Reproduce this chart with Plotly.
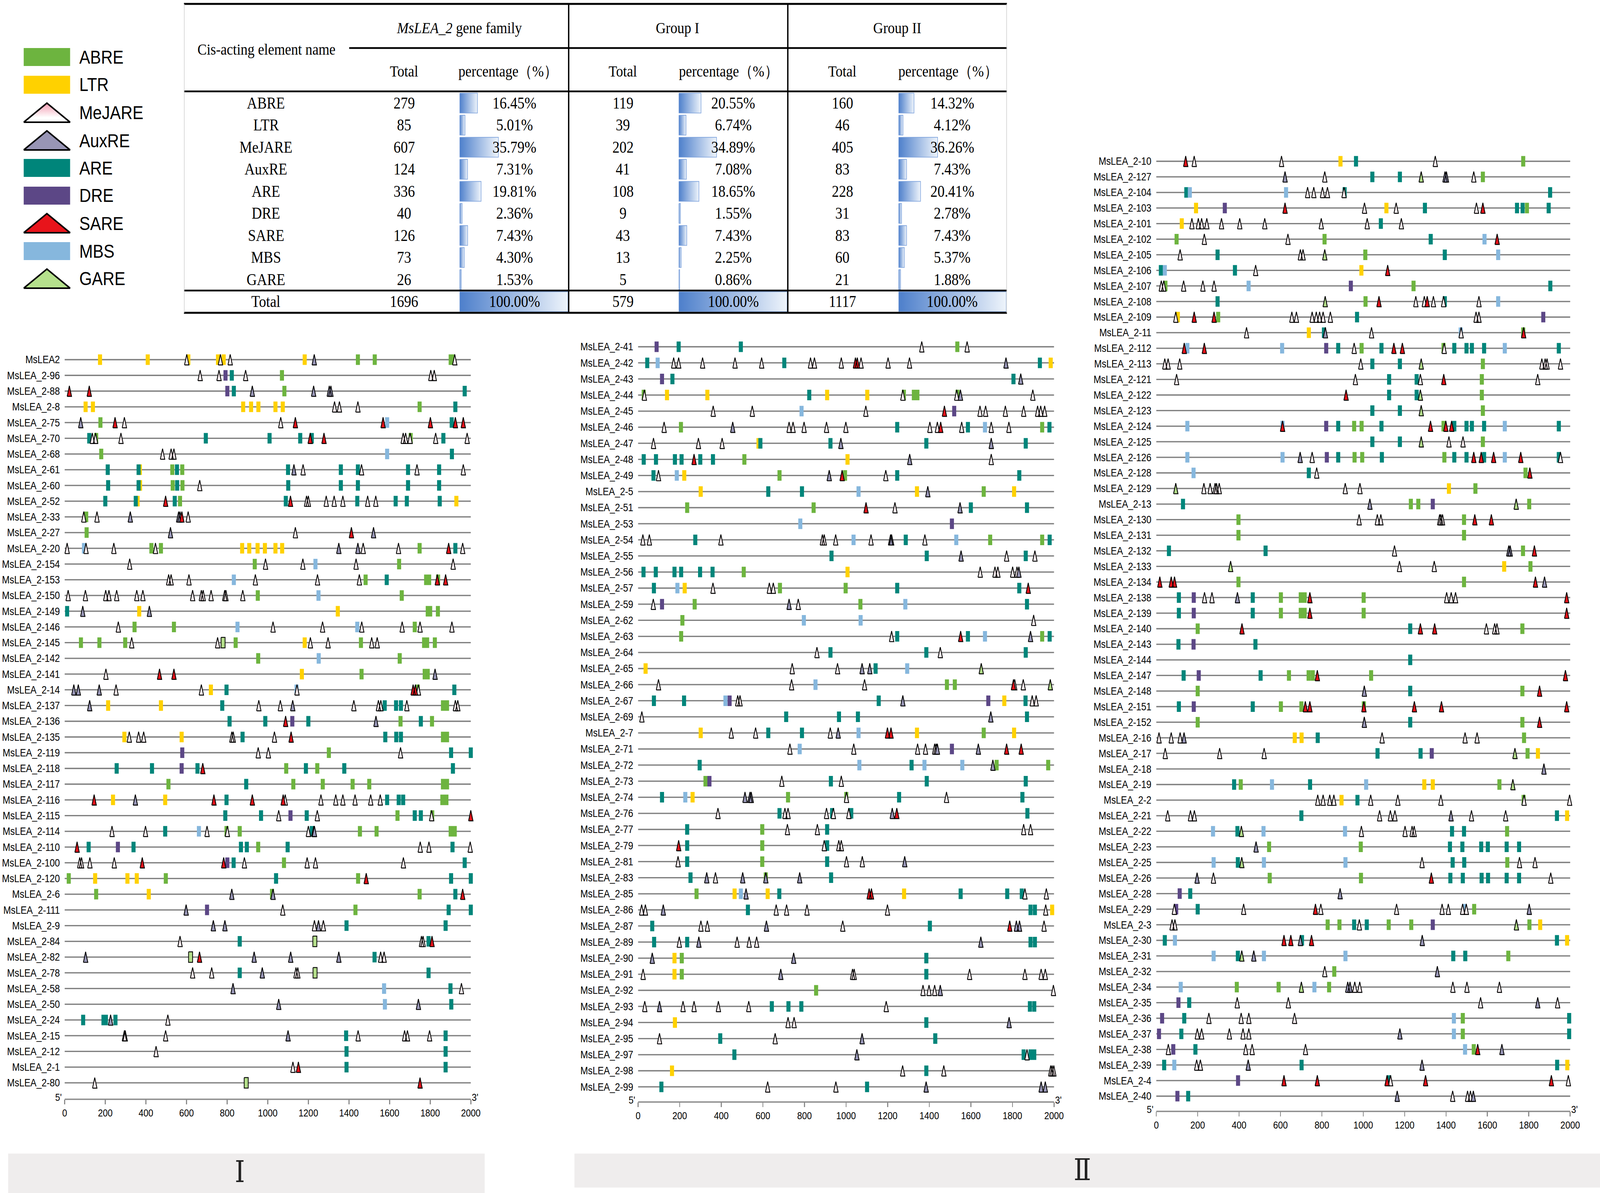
import plotly.graph_objects as go

W, H = 4724, 3055

# ---------------- table values ----------------
ELEMENTS = ["ABRE", "LTR", "MeJARE", "AuxRE", "ARE", "DRE", "SARE", "MBS", "GARE"]
FAMILY_TOTAL = [279, 85, 607, 124, 336, 40, 126, 73, 26]
FAMILY_PCT = [16.45, 5.01, 35.79, 7.31, 19.81, 2.36, 7.43, 4.30, 1.53]
GROUP1_TOTAL = [119, 39, 202, 41, 108, 9, 43, 13, 5]
GROUP1_PCT = [20.55, 6.74, 34.89, 7.08, 18.65, 1.55, 7.43, 2.25, 0.86]
GROUP2_TOTAL = [160, 46, 405, 83, 228, 31, 83, 60, 21]
GROUP2_PCT = [14.32, 4.12, 36.26, 7.43, 20.41, 2.78, 7.43, 5.37, 1.88]

# ---------------- promoter sites (code + position from 5') ----------------
# A=ABRE L=LTR M=MeJARE X=AuxRE R=ARE D=DRE S=SARE B=MBS G=GARE
GENES_I = ["MsLEA2", "MsLEA_2-96", "MsLEA_2-88", "MsLEA_2-8", "MsLEA_2-75", "MsLEA_2-70",
           "MsLEA_2-68", "MsLEA_2-61", "MsLEA_2-60", "MsLEA_2-52", "MsLEA_2-33", "MsLEA_2-27",
           "MsLEA_2-20", "MsLEA_2-154", "MsLEA_2-153", "MsLEA_2-150", "MsLEA_2-149", "MsLEA_2-146",
           "MsLEA_2-145", "MsLEA_2-142", "MsLEA_2-141", "MsLEA_2-14", "MsLEA_2-137", "MsLEA_2-136",
           "MsLEA_2-135", "MsLEA_2-119", "MsLEA_2-118", "MsLEA_2-117", "MsLEA_2-116", "MsLEA_2-115",
           "MsLEA_2-114", "MsLEA_2-110", "MsLEA_2-100", "MsLEA_2-120", "MsLEA_2-6", "MsLEA_2-111",
           "MsLEA_2-9", "MsLEA_2-84", "MsLEA_2-82", "MsLEA_2-78", "MsLEA_2-58", "MsLEA_2-50",
           "MsLEA_2-24", "MsLEA_2-15", "MsLEA_2-12", "MsLEA_2-1", "MsLEA_2-80"]
SITES_I = [
    "L174 L409 M601 L609 L755 M767 L783 M815 L1182 X1229 A1444 A1527 A1901 A1912 M1921",
    "M667 M760 D792 R823 M891 A1070 M1803 M1820",
    "S23 S121 D801 R833 X924 A1082 X1226 X1303 X1311 R1970",
    "L103 L139 L879 L918 L954 L1038 L1074 M1329 M1353 M1444 A1748 R1924",
    "X79 A176 S248 M294 M1064 S1136 S1568 B1588 S1801 R1906 S1924 S1963",
    "R121 M136 A155 M152 M277 R695 R1009 R1160 S1209 R1217 S1277 M1667 M1679 A1704 M1701 M1827 R1865 M1982",
    "A180 M482 M524 M538 B1588 R1907",
    "R212 R364 L370 A530 R553 A579 R1100 X1129 M1174 R1360 R1444 M1462 R1691 M1735 R1844 M1963",
    "R214 R364 L371 A532 R554 A580 M665 R1101 R1360 R1444 R1691 R1844",
    "R200 R350 L359 S497 R542 A568 R1089 S1112 M1191 M1200 M1288 M1327 M1370 R1441 M1492 M1532 R1630 R1685 R1847 L1929",
    "M94 A106 M159 X323 X561 X568 S577 M608",
    "A108 X521 M1136 S1412 X1521",
    "M12 B95 M105 M242 A427 M447 A474 L874 L909 L950 L986 L1038 L1071 X1350 X1444 M1470 M1644 A1748 S1891 R1924 M1960",
    "M320 A936 M989 M1173 B1235 M1435 A1647 M1913",
    "M512 M524 M612 B833 M939 M1245 M1451 A1482 R1586 A1780 A1795 A1839 S1835 S1876",
    "M17 M102 M202 M218 M256 M355 M385 M630 M673 M682 M721 M788 M794 M877 A951 B1250 A1660",
    "R12 X89 L367 X417 L1345 A1788 A1800 A1838",
    "M264 A344 A538 B851 M1026 M1270 B1441 M1463 M1662 A1724 M1750 M1907",
    "A80 A171 A298 M330 M753 G780 A842 L1182 M1210 M1297 A1459 M1512 M1539 A1770 A1785 A1823",
    "A953 B1251 A1650",
    "M203 S467 S538 L1168 A1462 A1773 A1788 X1824",
    "X45 X67 X170 M253 M673 L720 R797 B1142 M1144 S1716 S1727 A1739 M1742 R1919",
    "X123 L214 L474 R776 M956 M1062 X1123 M1424 M1545 M1557 R1576 R1632 R1656 M1685 A1863 A1883 M1924 M1936",
    "R812 R988 S1088 D1121 R1200 X1533 A1654 R1754 A1809",
    "L294 M318 M364 M389 L576 M823 M830 R876 M1033 S1115 R1579 R1633 R1656 A1863 A1883",
    "D579 M953 M1003 A1301 M1654 R1903 R2000",
    "R256 R430 D576 R654 S680 A1091 R1188 A1244 R1377 R1912",
    "A511 R894 A1126 A1271 A1418 A1500 A1863 A1883",
    "S145 L238 X348 L495 S735 R797 S924 S1076 M1086 M1262 M1335 M1370 M1430 M1507 M1554 R1588 R1645 R1667 A1860 A1880",
    "R791 R967 M1054 D1112 R1192 M1244 A1639 R1724 R1754 A1810 M1807 S2000",
    "M233 M398 R495 B661 M701 A797 M801 A862 M1200 R1217 M1227 X1230 A1454 A1536 A1901 A1921",
    "S61 R118 D262 R339 R868 R897 A953 R1098 M1751 M1794 R1910 M1997",
    "M74 M83 M124 M244 S382 S783 D801 R832 M885 A1080 M1194 M1235 M1668 R1970",
    "A20 L150 L309 L355 A498 R1041 A1445 S1485 R1903 R2000",
    "A155 L414 X823 A1021 X1026 A1748 R1924 S1960",
    "X598 D701 M1074 A1432 R1891 R2000",
    "X732 X789 M1230 X1250 M1274 R1388 R1876",
    "M568 R862 G1232 M1757 M1765 R1792 S1809",
    "X103 G620 S664 X933 X1113 X1350 R1526 M1556 M1573",
    "M630 M724 R862 X973 M1139 M1148 G1233 R1792",
    "X829 B1573 R1900 M1954",
    "X1054 B1577 X1742 R1904",
    "R91 R191 R203 X226 R250 M508",
    "M294 M298 M497 X1100 R1386 M1445 M1674 M1688 M1797 R1876",
    "M450 R1388 R1876",
    "M1124 S1151 R1388 R1876",
    "M148 G894 S1750",
]

GENES_II = ["MsLEA_2-41", "MsLEA_2-42", "MsLEA_2-43", "MsLEA_2-44", "MsLEA_2-45", "MsLEA_2-46",
            "MsLEA_2-47", "MsLEA_2-48", "MsLEA_2-49", "MsLEA_2-5", "MsLEA_2-51", "MsLEA_2-53",
            "MsLEA_2-54", "MsLEA_2-55", "MsLEA_2-56", "MsLEA_2-57", "MsLEA_2-59", "MsLEA_2-62",
            "MsLEA_2-63", "MsLEA_2-64", "MsLEA_2-65", "MsLEA_2-66", "MsLEA_2-67", "MsLEA_2-69",
            "MsLEA_2-7", "MsLEA_2-71", "MsLEA_2-72", "MsLEA_2-73", "MsLEA_2-74", "MsLEA_2-76",
            "MsLEA_2-77", "MsLEA_2-79", "MsLEA_2-81", "MsLEA_2-83", "MsLEA_2-85", "MsLEA_2-86",
            "MsLEA_2-87", "MsLEA_2-89", "MsLEA_2-90", "MsLEA_2-91", "MsLEA_2-92", "MsLEA_2-93",
            "MsLEA_2-94", "MsLEA_2-95", "MsLEA_2-97", "MsLEA_2-98", "MsLEA_2-99"]
SITES_II = [
    "D89 R195 R494 M1364 A1535 M1582",
    "R44 B94 M171 M195 M310 M466 M594 R703 M829 M848 M977 S1045 S1054 M1072 M1202 M1305 X1769 R1932 L1984",
    "D115 R165 R1805 X1840",
    "A27 M30 L139 L333 R823 L909 L1102 A1278 M1273 A1326 A1343 A1536 M1532 X1550 M1898",
    "M361 M549 B786 M1095 S1473 D1520 M1644 M1671 M1766 M1854 M1921 M1936 M1955",
    "M125 A206 X455 M726 M745 M798 M906 M999 R1246 M1403 M1439 S1455 M1556 R1586 B1668 M1698 M1783 A1943 R1978",
    "M74 M290 M404 L579 R588 R925 X975 R1386 X1698 R1864",
    "R27 R86 R177 R209 S269 R299 R360 A511 L1007 X1306 M1698",
    "R74 M98 B186 L222 A680 X919 S981 A995 M1191 R1246 R1833",
    "L301 R626 R788 B1060 L1341 X1393 A1662 L1808",
    "A236 A844 S1096 M1235 X1548 R1600 R1870",
    "B780 D1509",
    "M23 M54 R275 M398 M886 M895 M950 B1036 M1120 X1214 X1219 R1287 M1379 B1530 A1693 A1943 R1979",
    "R930 R1388 X1553 M1772 R1864 M1908",
    "R26 R85 R175 R207 R298 R358 A508 L1007 M1645 M1716 M1730 M1801 M1822 X1831",
    "R76 B189 L224 M360 M631 M650 A682 A998 R1246 R1833 S1876",
    "M73 D115 A272 X726 M770 A1069 B1285 R1870",
    "A213 B797 B1070 M1902",
    "A207 M1219 R1246 S1551 R1586 B1668 X1887 A1943 R1979",
    "M860 R925 R1386 M1453 R1864",
    "L36 M741 M959 X1077 X1114 R1142 B1294 G1650",
    "M98 M738 B853 M1089 A1485 A1523 S1805 M1811 M1852 G1982",
    "R76 R221 B420 D440 M479 M490 R1157 X1273 D1684 L1761 R1863 M1895 M1914",
    "M18 R712 R966 R1057 X1696 R1870",
    "L301 M448 M565 R626 R788 M924 X962 B1060 S1199 S1216 L1341 A1662 L1808",
    "M730 B777 M1037 M1344 M1382 M1426 M1433 X1439 D1509 X1636 S1772 S1842",
    "R296 B1064 R1315 B1377 B1559 X1706 A1724 A1972",
    "A324 D343 M691 R927 M977 R1388 R1864",
    "R115 B227 L262 X514 X538 X544 A721 A1001 M1002 R1255 M1483 R1848",
    "M384 R680 M706 M721 M906 R933 M939 M1013 R1025 X1222 S1244 R1872",
    "R236 A597 M718 M862 R909 M1854 M1887",
    "S195 R236 A597 M895 R909 M965 M977",
    "M192 R236 A597 R909 M1002 M1078 X1282",
    "R252 X330 M372 X503 A614 X614 X777 R928",
    "A281 L464 B494 X519 L623 R679 S1111 S1122 L1279 R1551 R1775 R1845 M1860 M1963",
    "M17 M35 X121 R528 M664 M714 M812 M1199 R1887 R1908 M1960 L1991",
    "R68 M302 M333 X617 M984 R1403 S1787 X1819 X1834 M1952",
    "R77 M198 R236 X292 M476 M534 M570 X1648 R1887 R1908",
    "X68 L175 A210 X748 R1386",
    "M24 L175 A210 X686 M1031 M1039 R1386 M1594 M1860 M1938 M1958",
    "A856 M1370 M1399 M1426 X1453 M1997",
    "M32 X103 M216 M269 M386 M532 R643 R723 R785 M1193 R1884 R1905",
    "L177 M721 M750 R1386 X1784",
    "M103 R395 M659 X1077 R1429",
    "R463 X1052 R1854 M1870 R1887 R1905",
    "L163 M1272 R1386 M1470 M1984 M1991 M1999",
    "R112 M623 M951 R1101 X1385 X1938 X1958",
]

GENES_III = ["MsLEA_2-10", "MsLEA_2-127", "MsLEA_2-104", "MsLEA_2-103", "MsLEA_2-101", "MsLEA_2-102",
             "MsLEA_2-105", "MsLEA_2-106", "MsLEA_2-107", "MsLEA_2-108", "MsLEA_2-109", "MsLEA_2-11",
             "MsLEA_2-112", "MsLEA_2-113", "MsLEA_2-121", "MsLEA_2-122", "MsLEA_2-123", "MsLEA_2-124",
             "MsLEA_2-125", "MsLEA_2-126", "MsLEA_2-128", "MsLEA_2-129", "MsLEA_2-13", "MsLEA_2-130",
             "MsLEA_2-131", "MsLEA_2-132", "MsLEA_2-133", "MsLEA_2-134", "MsLEA_2-138", "MsLEA_2-139",
             "MsLEA_2-140", "MsLEA_2-143", "MsLEA_2-144", "MsLEA_2-147", "MsLEA_2-148", "MsLEA_2-151",
             "MsLEA_2-152", "MsLEA_2-16", "MsLEA_2-17", "MsLEA_2-18", "MsLEA_2-19", "MsLEA_2-2",
             "MsLEA_2-21", "MsLEA_2-22", "MsLEA_2-23", "MsLEA_2-25", "MsLEA_2-26", "MsLEA_2-28",
             "MsLEA_2-29", "MsLEA_2-3", "MsLEA_2-30", "MsLEA_2-31", "MsLEA_2-32", "MsLEA_2-34",
             "MsLEA_2-35", "MsLEA_2-36", "MsLEA_2-37", "MsLEA_2-38", "MsLEA_2-39", "MsLEA_2-4",
             "MsLEA_2-40"]
SITES_III = [
    "S142 M183 M605 L890 R965 M1348 A1773",
    "X622 M814 R1044 R1177 G1280 X1395 X1402 M1534 A1578",
    "R145 B162 B627 M731 M761 M803 M827 R910 M907 R1903",
    "L192 D331 S622 M1006 L1112 M1159 R1298 M1547 S1578 R1743 R1770 A1791 R1896",
    "L123 M172 M203 M219 M244 M315 M403 M524 M797 M1019 R1085 M1184",
    "A98 M232 M636 A813 R1326 B1586 S1647",
    "M115 R296 M696 M709 G814 A1010 R1394 B1652",
    "R22 B41 R380 M480 L991 S1118",
    "M24 M36 A44 M132 M225 M279 B446 D940 A1243 R1904",
    "R296 G816 A1011 S1076 M1254 M1295 S1309 M1339 R1394 M1388 M1559 B1652",
    "M94 L104 S183 S279 A299 M655 M677 M753 M773 M789 M806 M841 R970 M1545 M1559 D1870",
    "M436 L737 R810 X817 M1040 B1471 M1473 A1773 S1775",
    "B150 S135 S232 B608 D821 R879 M956 A992 R1088 S1148 S1189 A1388 M1391 R1440 R1499 R1525 R1584 B1684 R1945",
    "M41 M57 M113 M988 R1044 R1177 G1280 A1578 M1863 M1879 M1888 M1953",
    "M98 M962 R1125 R1258 M1276 S1389 A1573 M1843",
    "S917 R1125 R1258 G1276 A1573",
    "R1044 R1177 G1280 A1578",
    "B150 B610 S610 D821 R879 A956 A992 R1088 S1325 A1388 S1399 S1427 R1440 R1499 R1525 R1584 B1684 R1945",
    "R1044 R1177 G1280 M1414 M1482 A1578",
    "B150 B610 X695 M753 D824 R879 A958 A995 R1090 A1392 R1440 R1499 S1534 S1570 R1584 S1630 B1684 S1761 R1945 M1953",
    "B180 R737 M775 A1784 S1805",
    "G94 M230 M260 M284 M291 M304 M913 M984 L1414 A1542",
    "R129 X1032 A1230 A1266 D1336 G1739 A1802",
    "A397 M980 M1068 M1085 M1369 M1375 M1383 A1487 S1539 S1619",
    "A397 A1487",
    "R61 R528 M1151 X1703 X1710 A1772 S1827",
    "G359 M1175 M1343 L1681 A1808",
    "S17 S72 S88 A397 A1487 S1832 X1876",
    "R109 D181 M233 M269 X392 R466 A602 A698 A717 S742 A1002 M1403 M1425 M1446 S1983",
    "R109 D181 R466 A602 A698 A717 S742 A1002 S1983",
    "A200 S414 R1227 S1276 S1345 M1595 M1635 M1646 A1769",
    "R107 D180 R479",
    "R1227",
    "R132 D205 R504 A641 A736 A756 S778 A1038 S1977",
    "A200 X1005 R1227 A1769 S1852",
    "R109 D181 R466 A602 A701 S720 S742 A1003 S1003 S1247 S1378 S1983",
    "A200 X1005 R1227 A1769 S1852",
    "M13 M72 M115 X134 L669 L702 R780 M1091 M1492 M1550 A1777",
    "M43 M306 M521 R1069 R1277 D1331 G1733 A1794 L1844",
    "X1873",
    "R376 A408 B559 R743 B1014 L1295 L1336 A1658 G1723",
    "M780 M806 M838 M858 L895 R972 M1036 M1167 M1375 A1775 M1777 M1997",
    "M55 M165 M184 R701 M1079 M1131 M1153 X1424 M1523 M1688 R1936 L1985",
    "B274 R392 G411 B518 B912 M991 M1202 M1236 M1246 R1429 R1487 A1695",
    "X482 A545 A988 R1419 R1479 R1570 R1602 R1693 R1753",
    "B277 R394 G413 B520 B914 M1284 R1432 R1488 A1696 M1755 M1830",
    "X197 M276 A548 A989 S1329 R1421 R1481 R1572 R1603 R1693 R1753 M1906",
    "D113 R164 X888",
    "M87 D96 R200 M422 S769 M795 M1161 M1381 M1411 M1480 B1490 M1498 A1536 X1802",
    "M76 M90 A828 A885 R956 M981 R1017 A1123 A1232 D1336 G1740 A1803 L1855",
    "R41 B90 S617 S650 R704 X696 S750 X1285 R1936 L1985",
    "B277 R394 G413 X471 B520 B914 R1435 R1493 A1701",
    "M814 A860 X1358",
    "B118 A389 A591 G701 B764 A835 X925 X936 M959 M983 M1433 M1501 M1658",
    "D107 R159 M391 M638 M1567 X1843 M1939",
    "D28 R135 M254 M410 M447 M668 B1438 A1481 R1995",
    "D13 R121 M198 M219 M353 M419 M447 X1177 B1438 A1481 R1995",
    "M58 D82 R189 M432 M463 M721 B1492 A1534 S1553 X1670",
    "R38 B87 M195 M213 X444 R702 X1284 R1937 L1986",
    "D395 S617 S778 S1115 R1125 M1132 S1301 S1909 M1991",
    "D102 R154 X1164 M1432 M1504 M1518 X1532",
]

CODES = {"A": "ABRE", "L": "LTR", "M": "MeJARE", "X": "AuxRE", "R": "ARE",
         "D": "DRE", "S": "SARE", "B": "MBS", "G": "GARE"}
COLORS = {"ABRE": "#6db43f", "LTR": "#ffd100", "MeJARE": "#fdf0f3", "AuxRE": "#9a98b8",
          "ARE": "#00857a", "DRE": "#5c4786", "SARE": "#e5131b", "MBS": "#86b7dd",
          "GARE": "#b3dd8a"}
BOX_TYPES = ["ABRE", "LTR", "ARE", "DRE", "MBS"]
TRI_TYPES = ["MeJARE", "AuxRE", "SARE"]

SANS = "Liberation Sans, Arial, sans-serif"
SERIF = "Liberation Serif, Times New Roman, serif"


def parse(s):
    return [(CODES[t[0]], float(t[1:])) for t in s.split()]


def px_x(x):
    return x / W


def px_y(y):
    return 1 - y / H


fig = go.Figure()
layout = dict(width=W, height=H, margin=dict(l=0, r=0, t=0, b=0),
              paper_bgcolor="white", plot_bgcolor="rgba(0,0,0,0)", showlegend=False)
shapes = []
annotations = []


def note(x, y, text, size, family=SERIF, xref="paper", yref="paper", xanchor="center",
         yanchor="middle", color="black"):
    annotations.append(dict(xref=xref, yref=yref, x=x, y=y, text=text, showarrow=False,
                            xanchor=xanchor, yanchor=yanchor,
                            font=dict(family=family, size=size, color=color)))


# panel geometry (pixels of the 4724x3055 page)
PANELS = [
    dict(genes=GENES_I, sites=SITES_I, x0=191, x1=1390, row0=921, step=40.26, axis=2815, gare_box=True),
    dict(genes=GENES_II, sites=SITES_II, x0=1884, x1=3112, row0=888, step=41.2, axis=2822, gare_box=False),
    dict(genes=GENES_III, sites=SITES_III, x0=3414, x1=4636, row0=413, step=39.9, axis=2846, gare_box=False),
]

for k, p in enumerate(PANELS, start=1):
    sfx = "" if k == 1 else str(k)
    xa, ya = "x" + sfx, "y" + sfx
    ppu = (p["x1"] - p["x0"]) / 2000
    pad = 22
    n = len(p["genes"])
    step = p["step"]
    top = p["row0"] - 0.9 * step
    layout["xaxis" + sfx] = dict(
        domain=[px_x(p["x0"] - pad * ppu), px_x(p["x1"] + pad * ppu)],
        range=[-pad, 2000 + pad], anchor=ya, showgrid=False, zeroline=False, showline=False,
        tickvals=list(range(0, 2001, 200)), ticks="outside", ticklen=12, tickwidth=2.5,
        tickcolor="#8c8c8c", tickfont=dict(family=SANS, size=26, color="black"),
        automargin=False, fixedrange=True)
    layout["yaxis" + sfx] = dict(
        domain=[px_y(p["axis"]), px_y(top)],
        range=[(p["axis"] - p["row0"]) / step, -0.9], anchor=xa,
        showgrid=False, zeroline=False, showline=False, ticks="",
        tickvals=list(range(n)), ticktext=p["genes"],
        tickfont=dict(family=SANS, size=27, color="black"),
        automargin=False, fixedrange=True)

    # gene lines
    lx, ly = [], []
    for i in range(n):
        lx += [0, 2000, None]
        ly += [i, i, None]
    fig.add_trace(go.Scatter(x=lx, y=ly, xaxis=xa, yaxis=ya, mode="lines",
                             line=dict(color="#7f7f7f", width=3.3), hoverinfo="skip"))

    # axis baseline + 5'/3'
    shapes.append(dict(type="line", xref="paper", yref="paper",
                       x0=px_x(p["x0"]), x1=px_x(p["x1"]),
                       y0=px_y(p["axis"]), y1=px_y(p["axis"]),
                       line=dict(color="#8c8c8c", width=3.3)))
    note(px_x(p["x0"] - 7), px_y(p["axis"] - 5), "5'", 26, family=SANS, xanchor="right")
    note(px_x(p["x1"] + 1), px_y(p["axis"] - 5), "3'", 26, family=SANS, xanchor="left")

    rows = [parse(s) for s in p["sites"]]
    bw, bh = 6 / ppu, 13.5 / step
    tw, th = 6.5 / ppu, 13.5 / step

    def boxes(name):
        xs, ys = [], []
        for i, row in enumerate(rows):
            for t, pos in row:
                if t == name:
                    xs += [pos - bw, pos + bw, pos + bw, pos - bw, pos - bw, None]
                    ys += [i - bh, i - bh, i + bh, i + bh, i - bh, None]
        return xs, ys

    def triangles(name):
        xs, ys = [], []
        for i, row in enumerate(rows):
            for t, pos in row:
                if t == name:
                    xs += [pos - tw, pos, pos + tw, pos - tw, None]
                    ys += [i + th, i - th, i + th, i + th, None]
        return xs, ys

    for name in BOX_TYPES:
        xs, ys = boxes(name)
        if xs:
            fig.add_trace(go.Scatter(x=xs, y=ys, xaxis=xa, yaxis=ya, mode="lines", fill="toself",
                                     fillcolor=COLORS[name], line=dict(width=0, color=COLORS[name]),
                                     hoverinfo="skip"))
    if p["gare_box"]:
        xs, ys = boxes("GARE")
        if xs:
            fig.add_trace(go.Scatter(x=xs, y=ys, xaxis=xa, yaxis=ya, mode="lines", fill="toself",
                                     fillcolor=COLORS["GARE"], line=dict(width=2.2, color="black"),
                                     hoverinfo="skip"))
    tri_list = TRI_TYPES + ([] if p["gare_box"] else ["GARE"])
    for name in tri_list:
        xs, ys = triangles(name)
        if xs:
            fig.add_trace(go.Scatter(x=xs, y=ys, xaxis=xa, yaxis=ya, mode="lines", fill="toself",
                                     fillcolor=COLORS[name], line=dict(width=2.4, color="black"),
                                     hoverinfo="skip"))

# ---------------- overlay axis in page pixels (legend) ----------------
layout["xaxis4"] = dict(domain=[0, 1], range=[0, W], anchor="y4", visible=False, fixedrange=True)
layout["yaxis4"] = dict(domain=[0, 1], range=[H, 0], anchor="x4", visible=False, fixedrange=True)

LEG_Y = [146, 217, 289, 360, 430, 501, 572, 643, 714]
for name, cy in zip(ELEMENTS, LEG_Y):
    if name in BOX_TYPES:
        shapes.append(dict(type="rect", xref="paper", yref="paper",
                           x0=px_x(70), x1=px_x(207), y0=px_y(cy + 23), y1=px_y(cy - 23),
                           fillcolor=COLORS[name], line=dict(width=0)))
    else:
        tr = dict(x=[70, 138.5, 207, 70], y=[cy + 24, cy - 25, cy + 24, cy + 24],
                  xaxis="x4", yaxis="y4", mode="lines", fill="toself",
                  line=dict(color="black", width=4), hoverinfo="skip")
        if name == "MeJARE":
            tr["fillgradient"] = dict(type="vertical", start=cy - 25, stop=cy + 24,
                                      colorscale=[[0, "#f39ab0"], [0.75, "#ffffff"], [1, "#ffffff"]])
        else:
            tr["fillcolor"] = {"AuxRE": "#9895b5", "SARE": "#e8141b", "GARE": "#b5e08c"}[name]
        fig.add_trace(go.Scatter(**tr))
    note(px_x(232), px_y(cy), name, 48, family=SANS, xanchor="left")

# ---------------- table ----------------
T_ROW0, T_STEP = 264, 56.5
layout["yaxis5"] = dict(domain=[px_y(T_ROW0 + 9.5 * T_STEP), px_y(T_ROW0 - 0.5 * T_STEP)],
                        range=[9.5, -0.5], anchor="x5", visible=False, fixedrange=True)
GROUPS = [
    ("x5", FAMILY_TOTAL, FAMILY_PCT, 1357, 1677, 1193, 1519),
    ("x6", GROUP1_TOTAL, GROUP1_PCT, 2004, 2324, 1839, 2165),
    ("x7", GROUP2_TOTAL, GROUP2_PCT, 2653, 2971, 2487, 2812),
]
for ax, totals, pcts, b0, b1, tx, ptx in GROUPS:
    layout["xaxis" + ax[1:]] = dict(domain=[px_x(b0), px_x(b1)], range=[0, 100], anchor="y5",
                                     visible=False, fixedrange=True)
    vals = pcts + [100.0]
    tots = totals + [sum(totals)]
    for i, v in enumerate(vals):
        fig.add_trace(go.Scatter(x=[0, v, v, 0, 0], y=[i - 0.45, i - 0.45, i + 0.45, i + 0.45, i - 0.45],
                                 xaxis=ax, yaxis="y5", mode="lines", fill="toself",
                                 fillgradient=dict(type="horizontal",
                                                   colorscale=[[0, "#4d7fcb"], [1, "#eef4fb"]]),
                                 line=dict(color="#7ba1dc", width=1.6), hoverinfo="skip"))
        note(px_x(tx), i, str(tots[i]), 42, yref="y5")
        note(px_x(ptx), i, f"{v:.2f}%", 42, yref="y5")

for i, name in enumerate(ELEMENTS + ["Total"]):
    note(px_x(785), i, name, 42, yref="y5")

HEADERS = [
    ("Cis-acting element name", 787, 126),
    ("<i>MsLEA_2</i> gene family", 1356, 71),
    ("Group I", 2000, 71),
    ("Group II", 2649, 71),
    ("Total", 1193, 182), ("percentage（%）", 1500, 182),
    ("Total", 1839, 182), ("percentage（%）", 2151, 182),
    ("Total", 2487, 182), ("percentage（%）", 2799, 182),
]
for text, hx, hy in HEADERS:
    note(px_x(hx), px_y(hy), text, 41)


def hline(y, x0, x1, w):
    shapes.append(dict(type="line", xref="paper", yref="paper", x0=px_x(x0), x1=px_x(x1),
                       y0=px_y(y), y1=px_y(y), line=dict(color="black", width=w)))


def vline(x, y0, y1, w, color="black"):
    shapes.append(dict(type="line", xref="paper", yref="paper", x0=px_x(x), x1=px_x(x),
                       y0=px_y(y0), y1=px_y(y1), line=dict(color=color, width=w)))


hline(10, 543, 2973, 5)
hline(123, 1031, 2973, 4.5)
hline(234, 543, 2973, 4.5)
hline(744, 543, 2973, 4.5)
hline(801, 543, 2973, 5)
vline(1679, 10, 801, 4)
vline(2326, 10, 801, 4)
vline(544, 10, 801, 1.5, "#c8c8c8")
vline(2972, 10, 801, 1.5, "#c8c8c8")

# ---------------- group labels at the bottom ----------------
shapes.append(dict(type="rect", xref="paper", yref="paper", x0=px_x(24), x1=px_x(1431),
                   y0=px_y(3055), y1=px_y(2954), fillcolor="#efeded", line=dict(width=0), layer="below"))
shapes.append(dict(type="rect", xref="paper", yref="paper", x0=px_x(1696), x1=px_x(4724),
                   y0=px_y(3041), y1=px_y(2954), fillcolor="#efeded", line=dict(width=0), layer="below"))
note(px_x(708), px_y(3001), "Ⅰ", 76, family="Liberation Serif, DejaVu Serif", color="#222222")
note(px_x(3196), px_y(2996), "Ⅱ", 76, family="Liberation Serif, DejaVu Serif", color="#222222")

layout["shapes"] = shapes
layout["annotations"] = annotations
fig.update_layout(**layout)

# the browser viewport can be narrower than the requested window: stretch the page onto it
FIT = """
var sx = window.innerWidth / 4724, sy = window.innerHeight / 3055;
document.documentElement.style.overflow = 'hidden';
document.body.style.margin = '0';
document.body.style.overflow = 'hidden';
var gd = document.getElementById('{plot_id}');
if (gd && (Math.abs(sx - 1) > 0.002 || Math.abs(sy - 1) > 0.002)) {
    gd.style.transformOrigin = '0 0';
    gd.style.transform = 'scale(' + sx + ',' + sy + ')';
}
"""
fig.write_html("out.html", config={"displayModeBar": False}, post_script=FIT)
